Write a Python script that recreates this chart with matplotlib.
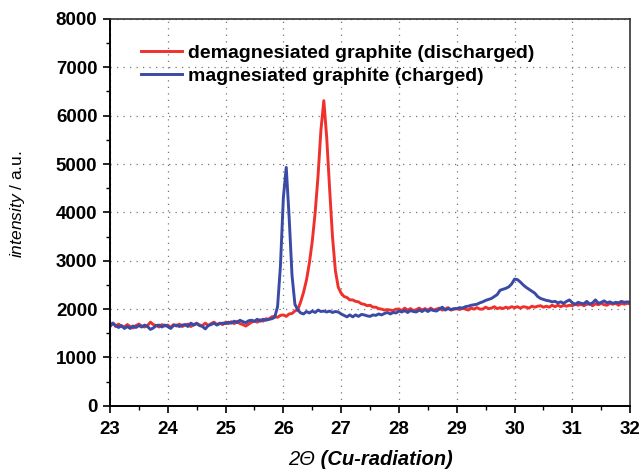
import numpy as np
import matplotlib
matplotlib.use("Agg")
import matplotlib.pyplot as plt
from matplotlib.ticker import MultipleLocator
from matplotlib.offsetbox import TextArea, HPacker, AnchoredOffsetbox

plt.rcParams["font.family"] = ["Liberation Sans", "DejaVu Sans"]
plt.rcParams["mathtext.fontset"] = "custom"
plt.rcParams["mathtext.rm"] = "Liberation Sans"
plt.rcParams["mathtext.it"] = "Liberation Sans:italic"

# 2-theta grid (0.05 deg steps)
two_theta = np.round(np.arange(23.0, 32.001, 0.05), 2)

discharged = [
    1660, 1710, 1640, 1690, 1640, 1630, 1680, 1640, 1610, 1660, 1690, 1650, 1630, 1660, 1730, 1680, 1660, 1630, 1680, 1650,
    1670, 1620, 1680, 1650, 1690, 1640, 1670, 1690, 1640, 1680, 1710, 1670, 1660, 1710, 1660, 1700, 1730, 1680, 1710, 1680,
    1730, 1700, 1740, 1700, 1750, 1700, 1680, 1650, 1690, 1730, 1750, 1730, 1780, 1750, 1800, 1790, 1840, 1850, 1830, 1870,
    1880, 1850, 1900, 1910, 1960, 1990, 2150, 2350, 2600, 2950, 3400, 3990, 4750, 5700, 6310, 5550, 4500, 3500, 2800, 2450,
    2330, 2260, 2240, 2190, 2190, 2160, 2150, 2110, 2100, 2070, 2080, 2040, 2040, 2010, 2000, 1980, 1990, 1980, 1970, 2000,
    2000, 1970, 2020, 1980, 2010, 1970, 1990, 2020, 1980, 2010, 1980, 2020, 1980, 2000, 2020, 1980, 2000, 2030, 1980, 2000,
    2010, 1990, 2020, 2000, 1980, 2020, 2000, 2030, 2000, 2000, 2040, 2010, 2020, 2050, 2010, 2030, 2010, 2040, 2020, 2050,
    2030, 2050, 2020, 2050, 2040, 2020, 2060, 2040, 2060, 2070, 2040, 2060, 2040, 2080, 2050, 2080, 2050, 2080, 2060, 2080,
    2070, 2100, 2080, 2100, 2070, 2100, 2110, 2070, 2110, 2090, 2120, 2090, 2080, 2120, 2100, 2120, 2080, 2120, 2100, 2120,
    2110,
]

charged = [
    1640, 1710, 1660, 1620, 1660, 1600, 1640, 1600, 1650, 1620, 1660, 1630, 1670, 1640, 1580, 1610, 1660, 1670, 1630, 1670,
    1640, 1600, 1660, 1670, 1640, 1670, 1680, 1640, 1710, 1670, 1700, 1660, 1640, 1590, 1660, 1680, 1710, 1670, 1700, 1710,
    1700, 1730, 1710, 1750, 1720, 1770, 1740, 1720, 1760, 1770, 1750, 1790, 1750, 1790, 1770, 1790, 1800, 1830, 2050, 2900,
    4300, 4930, 3900, 2700, 2100, 1980, 1920, 1900, 1950, 1920, 1960, 1930, 1980, 1950, 1960, 1940, 1960, 1930, 1950, 1940,
    1900, 1870, 1840, 1880, 1840, 1880, 1850, 1890, 1880, 1860, 1850, 1880, 1870, 1900, 1880, 1910, 1930, 1900, 1930, 1920,
    1960, 1940, 1970, 1930, 1970, 1950, 1940, 1980, 1950, 1990, 1950, 1990, 1970, 1960, 2000, 2040, 1980, 2010, 1990, 2010,
    2010, 2030, 2020, 2050, 2060, 2080, 2090, 2100, 2130, 2150, 2180, 2200, 2220, 2260, 2300, 2390, 2410, 2430, 2460, 2520,
    2620, 2610, 2560, 2500, 2450, 2410, 2370, 2330, 2260, 2220, 2200, 2180, 2170, 2150, 2160, 2130, 2150, 2120, 2160, 2190,
    2130, 2100, 2140, 2120, 2110, 2160, 2100, 2130, 2190, 2120, 2140, 2170, 2130, 2150, 2120, 2140, 2130, 2160, 2140, 2150,
    2140,
]

LABELS = ["demagnesiated graphite (discharged)", "magnesiated graphite (charged)"]
COLORS = ["#f0302c", "#3a4aa5"]

fig = plt.figure(figsize=(6.43, 4.73), dpi=100)
ax = fig.add_axes([0.171, 0.142, 0.809, 0.818])

ax.plot(two_theta, discharged, color=COLORS[0], linewidth=2.1, label=LABELS[0])
ax.plot(two_theta, charged, color=COLORS[1], linewidth=2.1, label=LABELS[1])

ax.set_xlim(23, 32)
ax.set_ylim(0, 8000)
ax.xaxis.set_major_locator(MultipleLocator(1))
ax.xaxis.set_minor_locator(MultipleLocator(0.5))
ax.yaxis.set_major_locator(MultipleLocator(1000))
ax.yaxis.set_minor_locator(MultipleLocator(500))

ax.tick_params(which="major", direction="out", length=5, width=1.2,
               labelsize=13.5, pad=4, top=False, right=False)
ax.tick_params(axis="x", which="major", pad=6)
ax.tick_params(which="minor", direction="out", length=3, width=1.0,
               top=False, right=False)
for lab in ax.get_xticklabels() + ax.get_yticklabels():
    lab.set_fontweight("bold")

for side in ["left", "bottom"]:
    ax.spines[side].set_linewidth(1.4)
for side in ["top", "right"]:
    ax.spines[side].set_linewidth(1.2)
    ax.spines[side].set_color("#333333")

ax.grid(True, which="major", color="#777777", linewidth=0.9,
        linestyle=(0, (1, 4.2)))

ax.set_ylabel(r"$\mathit{intensity}$ / a.u.", fontsize=12.5)
ax.yaxis.set_label_coords(-0.16, 0.52)

# x label: italic "2Θ" followed by bold italic text
part1 = TextArea("2Θ", textprops=dict(fontsize=14.5, style="italic"))
part2 = TextArea(" (Cu-radiation)",
                 textprops=dict(fontsize=14.5, style="italic", fontweight="bold"))
xlab = HPacker(children=[part1, part2], align="baseline", pad=0, sep=0)
anchored = AnchoredOffsetbox(loc="upper center", child=xlab, pad=0, borderpad=0,
                             frameon=False, bbox_to_anchor=(0.5, -0.115),
                             bbox_transform=ax.transAxes)
ax.add_artist(anchored)

leg = ax.legend(loc="upper left", bbox_to_anchor=(0.06, 0.935), frameon=False,
                handlelength=2.1, handletextpad=0.3, labelspacing=0.3,
                borderpad=0, borderaxespad=0,
                prop={"weight": "bold", "size": 14})

fig.savefig("out.png", dpi=100)
